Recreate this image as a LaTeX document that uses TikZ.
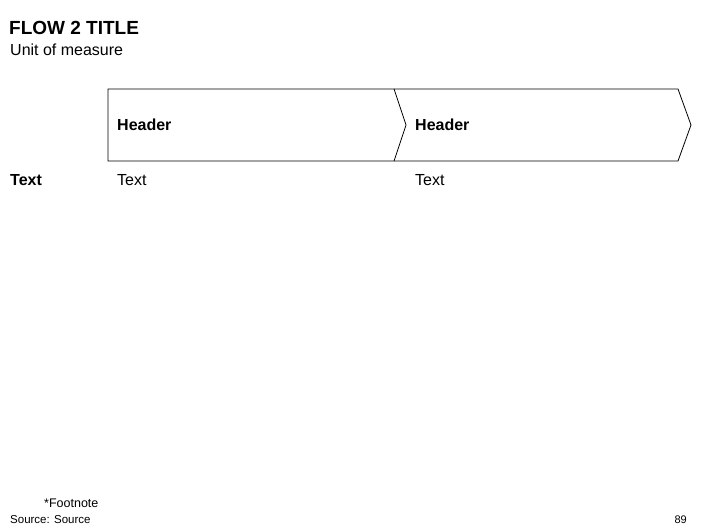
\documentclass[tikz,border=0pt]{standalone}
\usepackage{fontspec}
\setmainfont{Liberation Sans}
\usetikzlibrary{positioning}

\begin{document}
\begin{tikzpicture}[x=1pt, y=-1pt, every node/.style={inner sep=0pt, anchor=base west}]
\useasboundingbox (0,0) rectangle (706,529);

\node[font=\bfseries\fontsize{19}{21}\selectfont] (FlowTitle) at (9,35) {FLOW 2 TITLE};
\node[font=\fontsize{16}{18}\selectfont] (UnitLabel) at (10,56) {Unit of measure};

% chevrons
\draw[line width=0.8pt] (108,89) -- (394,89) -- (406,125) -- (394,161) -- (108,161) -- cycle;
\draw[line width=0.8pt] (394,89) -- (678,89) -- (691,125) -- (678,161) -- (394,161);

\node[font=\bfseries\fontsize{16}{18}\selectfont] (HeaderA) at (117,131) {Header};
\node[font=\bfseries\fontsize{16}{18}\selectfont] (HeaderB) at (415,131) {Header};

\node[font=\bfseries\fontsize{16}{18}\selectfont] (RowLabel) at (10,186) {Text};
\node[font=\fontsize{16}{18}\selectfont] (TextA) at (117,186) {Text};
\node[font=\fontsize{16}{18}\selectfont] (TextB) at (415,186) {Text};

\node[font=\fontsize{12.5}{14}\selectfont] (Footnote) at (44,507) {*Footnote};
\node[font=\fontsize{11.5}{13}\selectfont] (SourceNote) at (10,523) {Source: Source};
\node[font=\fontsize{11}{13}\selectfont, anchor=base east] (PageNo) at (687,523.5) {89};
\end{tikzpicture}
\end{document}
